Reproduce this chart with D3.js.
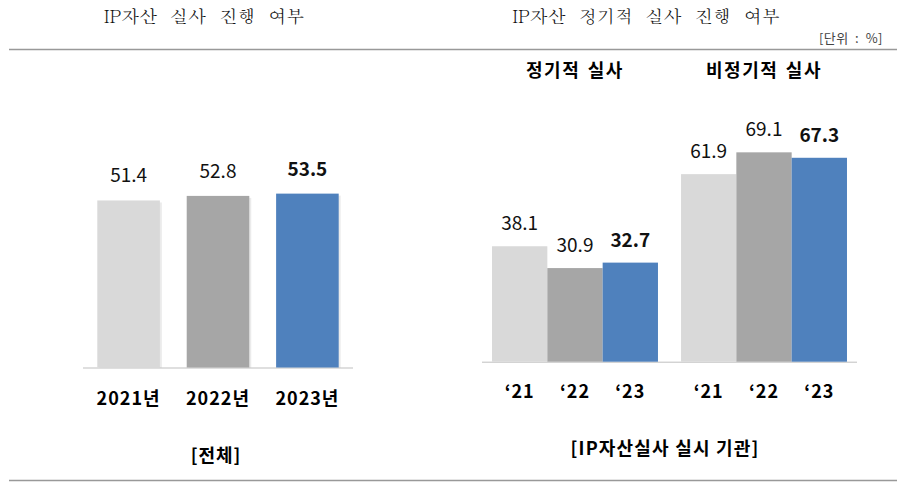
<!DOCTYPE html>
<html><head><meta charset="utf-8">
<script src="https://cdn.jsdelivr.net/npm/d3@7"></script>
<style>body{margin:0;background:#fff;}svg{display:block;}</style>
</head><body>
<script>
// ---- data ----
const totalYears = ["2021년", "2022년", "2023년"];
const totalValues = [51.4, 52.8, 53.5];
const groups = ["정기적 실사", "비정기적 실사"];
const groupYears = ["‘21", "‘22", "‘23"];
const regularValues = [38.1, 30.9, 32.7];
const irregularValues = [61.9, 69.1, 67.3];
const colors = ["#d9d9d9", "#a6a6a6", "#4f81bd"];
const leftTitle = "IP자산 실사 진행 여부";
const rightTitle = "IP자산 정기적 실사 진행 여부";
const unitLabel = "[단위 : %]";
const leftCaption = "[전체]";
const rightCaption = "[IP자산실사 실시 기관]";

const W = 903, H = 492;
const FONT = "'Malgun Gothic','Noto Sans CJK KR','Noto Sans',sans-serif";
const SERIF = "'Batang','Liberation Serif','Noto Sans CJK KR',serif";
const svg = d3.select("body").append("svg").attr("width", W).attr("height", H);

// separator lines
svg.append("line").attr("x1", 9).attr("x2", 897).attr("y1", 49.5).attr("y2", 49.5).attr("stroke", "#999").attr("stroke-width", 1.5);
svg.append("line").attr("x1", 9).attr("x2", 897).attr("y1", 480.5).attr("y2", 480.5).attr("stroke", "#999").attr("stroke-width", 1.5);

// titles
svg.append("text").attr("x", 204).attr("y", 23).attr("text-anchor", "middle").attr("font-family", SERIF)
  .attr("font-size", 18).attr("word-spacing", 7).attr("fill", "#111").text(leftTitle);
svg.append("text").attr("x", 646).attr("y", 23).attr("text-anchor", "middle").attr("font-family", SERIF)
  .attr("font-size", 18).attr("word-spacing", 7).attr("fill", "#111").text(rightTitle);
svg.append("text").attr("x", 883).attr("y", 43).attr("text-anchor", "end").attr("font-family", FONT)
  .attr("font-size", 13).attr("letter-spacing", 0.5).attr("word-spacing", 3).attr("fill", "#444").text(unitLabel);

// ---- left chart ----
const lBase = 367.5;
const yL = d3.scaleLinear().domain([0, 100]).range([lBase, lBase - 325]);
const xL = d3.scaleBand().domain(totalYears).range([83, 353]).paddingInner(0.3).paddingOuter(0.16);
svg.append("line").attr("x1", 83).attr("x2", 353).attr("y1", lBase + 0.5).attr("y2", lBase + 0.5).attr("stroke", "#bfbfbf");
const lg = svg.append("g");
lg.selectAll("rect.s").data(totalValues).join("rect")
  .attr("x", (d, i) => xL(totalYears[i]) + 2).attr("y", d => yL(d) + 2)
  .attr("width", xL.bandwidth()).attr("height", d => lBase - yL(d) - 2).attr("fill", "#000").attr("opacity", 0.08);
lg.selectAll("rect.b").data(totalValues).join("rect")
  .attr("x", (d, i) => xL(totalYears[i])).attr("y", d => yL(d))
  .attr("width", xL.bandwidth()).attr("height", d => lBase - yL(d)).attr("fill", (d, i) => colors[i]);
lg.selectAll("text.v").data(totalValues).join("text")
  .attr("x", (d, i) => xL(totalYears[i]) + xL.bandwidth() / 2).attr("y", d => yL(d) - 18)
  .attr("text-anchor", "middle").attr("font-family", FONT).attr("font-size", 19)
  .attr("font-weight", (d, i) => i === 2 ? "bold" : "normal").attr("fill", "#111").text(d => d.toFixed(1));
const axL = svg.append("g").attr("transform", `translate(0,${lBase})`)
  .call(d3.axisBottom(xL).tickSize(0).tickPadding(25));
axL.select(".domain").remove();
axL.selectAll("text").attr("font-family", FONT).attr("font-size", 18).attr("letter-spacing", 1)
  .attr("font-weight", "bold").attr("fill", "#000");
svg.append("text").attr("x", 216).attr("y", 462).attr("text-anchor", "middle").attr("font-family", FONT)
  .attr("font-size", 18).attr("letter-spacing", 1).attr("font-weight", "bold").text(leftCaption);

// ---- right chart ----
const rBase = 361.7;
const yR = d3.scaleLinear().domain([0, 100]).range([rBase, rBase - 303]);
const x0 = d3.scaleBand().domain(groups).range([482, 857]).paddingInner(0.122).paddingOuter(0.053);
const x1 = d3.scaleBand().domain(groupYears).range([0, x0.bandwidth()]);
svg.append("line").attr("x1", 482).attr("x2", 857).attr("y1", rBase + 0.5).attr("y2", rBase + 0.5).attr("stroke", "#bfbfbf");
const seriesR = [regularValues, irregularValues];
groups.forEach((g, gi) => {
  const gg = svg.append("g").attr("transform", `translate(${x0(g)},0)`);
  gg.selectAll("rect").data(seriesR[gi]).join("rect")
    .attr("x", (d, i) => x1(groupYears[i])).attr("y", d => yR(d))
    .attr("width", x1.bandwidth()).attr("height", d => rBase - yR(d)).attr("fill", (d, i) => colors[i]);
  gg.selectAll("text.v").data(seriesR[gi]).join("text")
    .attr("x", (d, i) => x1(groupYears[i]) + x1.bandwidth() / 2).attr("y", d => yR(d) - 16)
    .attr("text-anchor", "middle").attr("font-family", FONT).attr("font-size", 19)
    .attr("font-weight", (d, i) => i === 2 ? "bold" : "normal").attr("fill", "#111").text(d => d.toFixed(1));
  const ax = gg.append("g").attr("transform", `translate(0,${rBase})`)
    .call(d3.axisBottom(x1).tickSize(0).tickPadding(24));
  ax.select(".domain").remove();
  ax.selectAll("text").attr("font-family", FONT).attr("font-size", 18).attr("letter-spacing", 1)
    .attr("font-weight", "bold").attr("fill", "#000");
  svg.append("text").attr("x", x0(g) + x0.bandwidth() / 2).attr("y", 77).attr("text-anchor", "middle")
    .attr("font-family", FONT).attr("font-size", 18).attr("letter-spacing", 1.5).attr("word-spacing", 2)
    .attr("font-weight", "bold").text(g);
});
svg.append("text").attr("x", 665).attr("y", 455).attr("text-anchor", "middle").attr("font-family", FONT)
  .attr("font-size", 18).attr("letter-spacing", 1.2).attr("font-weight", "bold").text(rightCaption);
</script>
</body></html>
